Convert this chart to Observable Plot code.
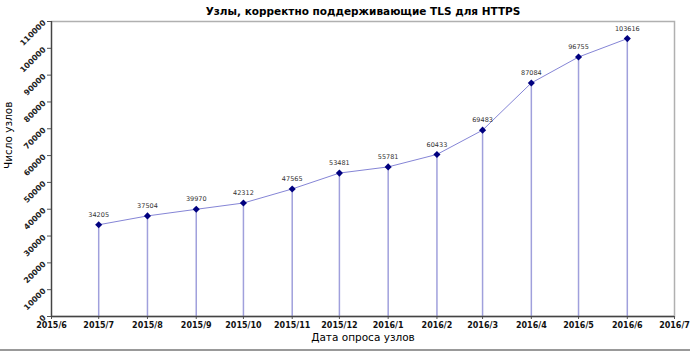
<!DOCTYPE html>
<html>
<head>
<meta charset="utf-8">
<script src="https://cdn.jsdelivr.net/npm/d3@7"></script>
<script src="https://cdn.jsdelivr.net/npm/@observablehq/plot@0.6"></script>
<style>
  html, body { margin: 0; padding: 0; background: #fff; }
  #chart { width: 690px; height: 351px; position: relative; }
</style>
</head>
<body>
<div id="chart"></div>
<script>
const months = ["2015-07","2015-08","2015-09","2015-10","2015-11","2015-12","2016-01","2016-02","2016-03","2016-04","2016-05","2016-06"];
const nodes = [34205, 37504, 39970, 42312, 47565, 53481, 55781, 60433, 69483, 87084, 96755, 103616];
const xTickMonths = ["2015-06","2015-07","2015-08","2015-09","2015-10","2015-11","2015-12","2016-01","2016-02","2016-03","2016-04","2016-05","2016-06","2016-07"];
const yTicks = [0,10000,20000,30000,40000,50000,60000,70000,80000,90000,100000,110000];
const title = "Узлы, корректно поддерживающие TLS для HTTPS";
const yLabel = "Число узлов";
const xLabel = "Дата опроса узлов";

const parse = s => new Date(s + "-01T00:00:00Z");
const data = months.map((m, i) => ({date: parse(m), value: nodes[i]}));
const xTicks = xTickMonths.map(parse);
const fmt = d => `${d.getUTCFullYear()}/${d.getUTCMonth() + 1}`;

const font = "DejaVu Sans, sans-serif";
const plot = Plot.plot({
  width: 690,
  height: 351,
  marginLeft: 51,
  marginRight: 16,
  marginTop: 21,
  marginBottom: 35,
  style: {fontFamily: font, background: "#fff", overflow: "visible"},
  x: {type: "utc", domain: [xTicks[0], xTicks[xTicks.length - 1]]},
  y: {domain: [0, 110000]},
  marks: [
    Plot.frame({stroke: "#b0b0b0", strokeWidth: 1.5}),
    Plot.ruleX(data, {x: "date", y1: 0, y2: "value", stroke: "#a0a0dc", strokeWidth: 1.5}),
    Plot.line(data, {x: "date", y: "value", stroke: "#8585d6", strokeWidth: 1}),
    Plot.dot(data, {x: "date", y: "value", symbol: "diamond2", r: 3.2, fill: "#00007f", stroke: "none"}),
    Plot.text(data, {x: "date", y: "value", text: d => String(d.value), dy: -10, fontSize: 6.5, fill: "#333"}),
    Plot.axisX({ticks: xTicks, tickFormat: fmt, tickSize: 3, tickPadding: 3, fontSize: 8, fontWeight: "bold", label: null, stroke: "#555", fill: "#111"}),
    Plot.axisY({ticks: yTicks, tickFormat: null, text: null, tickSize: 4, label: null, stroke: "#555"}),
    Plot.text(yTicks, {x: xTicks[0], y: d => d, text: d => String(d), rotate: -45, textAnchor: "end", dx: -7, dy: 0, fontSize: 7.8, fontWeight: "bold", fill: "#222"}),
    Plot.ruleY([0], {stroke: "#444", strokeWidth: 1.3}),
    Plot.ruleX([xTicks[0]], {stroke: "#444", strokeWidth: 1.3}),
    Plot.text([title], {frameAnchor: "top", dy: -14, fontSize: 10.5, fontWeight: "bold", fill: "#000"}),
    Plot.text([xLabel], {frameAnchor: "bottom", dy: 24, fontSize: 10.5, fill: "#000", letterSpacing: "1px"}),
    Plot.text([yLabel], {frameAnchor: "left", dx: -43, rotate: -90, fontSize: 10.5, fill: "#000", letterSpacing: "1px"})
  ]
});
document.getElementById("chart").appendChild(plot);
const border = document.createElement("div");
border.style.cssText = "position:absolute;left:0;top:349px;width:690px;height:1.5px;background:#999;";
document.getElementById("chart").appendChild(border);
</script>
</body>
</html>
